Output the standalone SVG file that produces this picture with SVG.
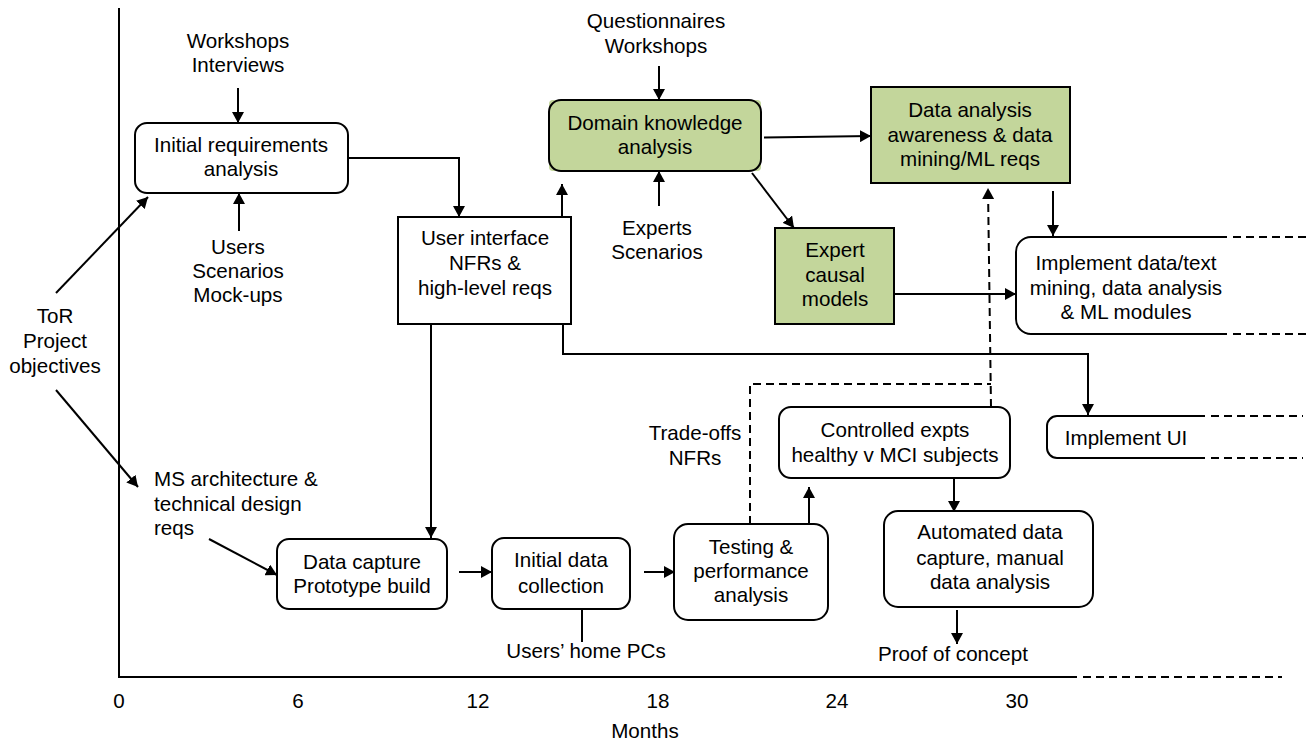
<svg xmlns="http://www.w3.org/2000/svg" width="1311" height="743" viewBox="0 0 1311 743">
  <defs>
    <marker id="arrow" markerUnits="userSpaceOnUse" markerWidth="11" markerHeight="12" refX="11" refY="6" orient="auto">
      <path d="M0,0 L11,6 L0,12 z" fill="#000"/>
    </marker>
    <style>
      text { font-family: "Liberation Sans", Arial, sans-serif; font-size: 20.6px; fill: #000; text-anchor: middle; }
      .left { text-anchor: start; }
      .box { fill: #fff; stroke: #000; stroke-width: 2; }
      .green { fill: #c3d69b; }
      .edge { fill: none; stroke: #000; stroke-width: 2; }
      .arr { marker-end: url(#arrow); }
      .dash { fill: none; stroke: #000; stroke-width: 2; stroke-dasharray: 8 5; }
    </style>
  </defs>

  <rect width="1311" height="743" fill="#fff"/>

  <!-- time axis -->
  <g id="axis">
    <path class="edge" d="M119,8 V677 H1077"/>
    <path class="dash" d="M1083,677 H1282"/>
    <text x="119" y="708">0</text>
    <text x="298" y="708">6</text>
    <text x="478" y="708">12</text>
    <text x="658" y="708">18</text>
    <text x="837" y="708">24</text>
    <text x="1017" y="708">30</text>
    <text x="645" y="738">Months</text>
  </g>

  <!-- connectors -->
  <g id="connectors">
    <path class="edge arr" d="M238,88 V123"/>
    <path class="edge arr" d="M239,231 V193"/>
    <path class="edge arr" d="M56,293 L148,197"/>
    <path class="edge arr" d="M347,158 H459 V217"/>
    <path class="edge arr" d="M562,217 V184"/>
    <path class="edge arr" d="M431,324 V538"/>
    <path class="edge arr" d="M563,324 V354 H1088 V415"/>
    <path class="edge arr" d="M659,66 V100"/>
    <path class="edge arr" d="M659,206 V171"/>
    <path class="edge arr" d="M764,137.5 L871,136"/>
    <path class="edge arr" d="M752,173 L794,228"/>
    <path class="edge arr" d="M1053,191 V236"/>
    <path class="edge arr" d="M894,294 H1016"/>
    <path class="edge arr" d="M56,390 L138,487"/>
    <path class="edge arr" d="M209,539 L277,575"/>
    <path class="edge arr" d="M459,572 H492"/>
    <path class="edge" d="M582,609 V642"/>
    <path class="edge arr" d="M644,572 H675"/>
    <path class="edge arr" d="M809,523 V487"/>
    <path class="edge arr" d="M954,478 V512"/>
    <path class="edge arr" d="M957,610 V644"/>
    <path class="dash" d="M750,524 V384 H991"/>
    <path class="dash arr" d="M991,407 L988,188"/>
  </g>

  <!-- free labels -->
  <g id="label-workshops">
    <text x="238" y="48">Workshops</text>
    <text x="238" y="72">Interviews</text>
  </g>
  <g id="label-users">
    <text x="238" y="254">Users</text>
    <text x="238" y="278">Scenarios</text>
    <text x="238" y="302">Mock-ups</text>
  </g>
  <g id="label-tor">
    <text x="55" y="323">ToR</text>
    <text x="55" y="348">Project</text>
    <text x="55" y="373">objectives</text>
  </g>
  <g id="label-ms">
    <text class="left" x="154" y="486">MS architecture &amp;</text>
    <text class="left" x="154" y="511">technical design</text>
    <text class="left" x="154" y="535">reqs</text>
  </g>
  <g id="label-questionnaires">
    <text x="656" y="28">Questionnaires</text>
    <text x="656" y="53">Workshops</text>
  </g>
  <g id="label-experts">
    <text x="657" y="235">Experts</text>
    <text x="657" y="259">Scenarios</text>
  </g>
  <g id="label-tradeoffs">
    <text x="695" y="440">Trade-offs</text>
    <text x="695" y="465">NFRs</text>
  </g>
  <g id="label-homepcs">
    <text x="586" y="658">Users’ home PCs</text>
  </g>
  <g id="label-proof">
    <text x="953" y="661">Proof of concept</text>
  </g>

  <!-- process nodes -->
  <g id="initial-requirements">
    <rect class="box" x="135" y="123" width="213" height="70" rx="12"/>
    <text x="241" y="152">Initial requirements</text>
    <text x="241" y="176">analysis</text>
  </g>
  <g id="user-interface">
    <rect class="box" x="398" y="217" width="173" height="107"/>
    <text x="485" y="245">User interface</text>
    <text x="485" y="270">NFRs &amp;</text>
    <text x="485" y="295">high-level reqs</text>
  </g>
  <g id="domain-knowledge">
    <rect class="green" x="549" y="100" width="212" height="71" rx="4"/>
    <rect x="549" y="100" width="212" height="71" rx="12" fill="none" stroke="#000" stroke-width="2"/>
    <text x="655" y="130">Domain knowledge</text>
    <text x="655" y="154">analysis</text>
  </g>
  <g id="data-analysis">
    <rect class="box green" x="871" y="87" width="199" height="96"/>
    <text x="970" y="117">Data analysis</text>
    <text x="970" y="142">awareness &amp; data</text>
    <text x="970" y="166">mining/ML reqs</text>
  </g>
  <g id="expert-causal">
    <rect class="box green" x="775" y="228" width="119" height="96"/>
    <text x="835" y="257">Expert</text>
    <text x="835" y="282">causal</text>
    <text x="835" y="306">models</text>
  </g>
  <g id="implement-mining">
    <path class="box" d="M1227,237 H1031 A15,15 0 0 0 1016,252 V319 A15,15 0 0 0 1031,334 H1227"/>
    <path class="dash" d="M1233,237 H1310 M1233,334 H1310"/>
    <text x="1126" y="270">Implement data/text</text>
    <text x="1126" y="295">mining, data analysis</text>
    <text x="1126" y="319">&amp; ML modules</text>
  </g>
  <g id="implement-ui">
    <path class="box" d="M1205,416 H1057 A10,10 0 0 0 1047,426 V448 A10,10 0 0 0 1057,458 H1205"/>
    <path class="dash" d="M1211,416 H1303 M1211,458 H1303"/>
    <text x="1126" y="445">Implement UI</text>
  </g>
  <g id="data-capture">
    <rect class="box" x="277" y="539" width="170" height="70" rx="12"/>
    <text x="362" y="569">Data capture</text>
    <text x="362" y="593">Prototype build</text>
  </g>
  <g id="initial-data">
    <rect class="box" x="492" y="538" width="138" height="71" rx="12"/>
    <text x="561" y="567">Initial data</text>
    <text x="561" y="593">collection</text>
  </g>
  <g id="testing">
    <rect class="box" x="674" y="524" width="154" height="96" rx="14"/>
    <text x="751" y="554">Testing &amp;</text>
    <text x="751" y="578">performance</text>
    <text x="751" y="602">analysis</text>
  </g>
  <g id="controlled-expts">
    <rect class="box" x="779" y="407" width="231" height="71" rx="12"/>
    <text x="895" y="437">Controlled expts</text>
    <text x="895" y="462">healthy v MCI subjects</text>
  </g>
  <g id="automated-capture">
    <rect class="box" x="884" y="511" width="209" height="96" rx="14"/>
    <text x="990" y="539">Automated data</text>
    <text x="990" y="565">capture, manual</text>
    <text x="990" y="589">data analysis</text>
  </g>
</svg>
